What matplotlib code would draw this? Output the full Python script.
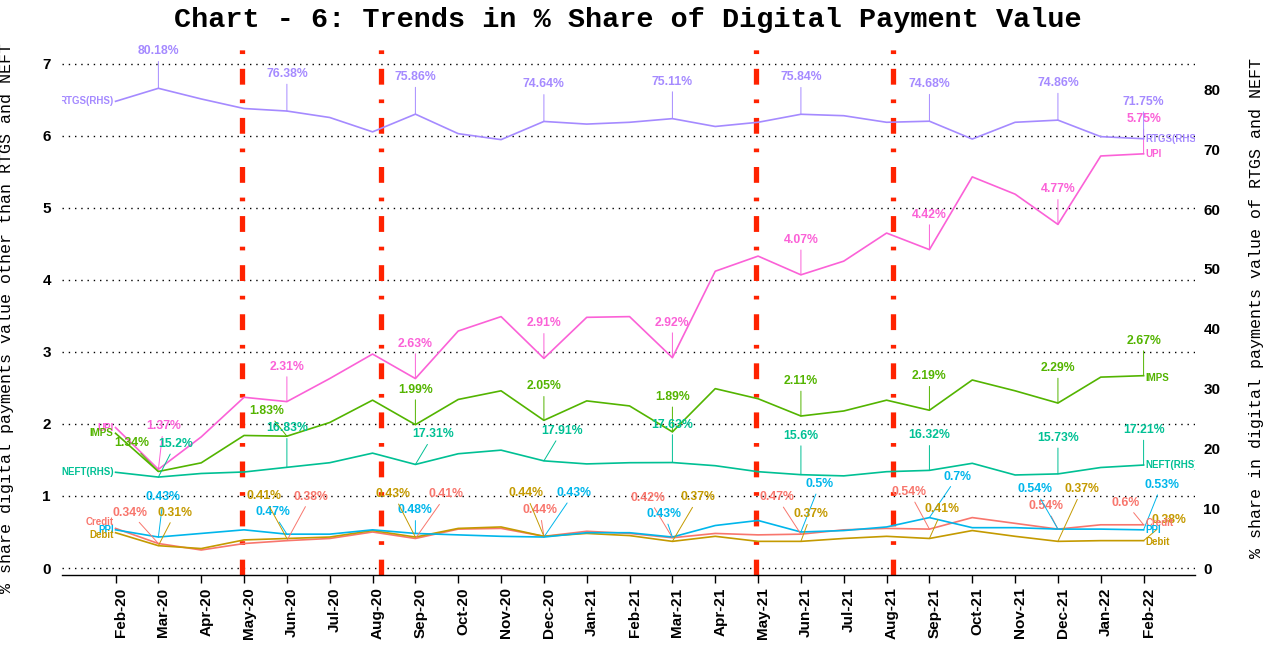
import numpy as np
import matplotlib
matplotlib.use("Agg")
import matplotlib.pyplot as plt
import matplotlib.transforms as mtransforms

plt.rcParams["font.family"] = ["Liberation Sans", "DejaVu Sans"]

# months on the x axis
months = ["Feb-20", "Mar-20", "Apr-20", "May-20", "Jun-20", "Jul-20", "Aug-20",
          "Sep-20", "Oct-20", "Nov-20", "Dec-20", "Jan-21", "Feb-21", "Mar-21",
          "Apr-21", "May-21", "Jun-21", "Jul-21", "Aug-21", "Sep-21", "Oct-21",
          "Nov-21", "Dec-21", "Jan-22", "Feb-22"]

# left axis series (% share)
upi = [1.95, 1.37, 1.82, 2.37, 2.31, 2.63, 2.97, 2.63, 3.29, 3.49, 2.91, 3.48, 3.49,
       2.92, 4.12, 4.33, 4.07, 4.26, 4.65, 4.42, 5.43, 5.19, 4.77, 5.72, 5.75]
imps = [1.87, 1.34, 1.46, 1.84, 1.83, 2.02, 2.33, 1.99, 2.34, 2.46, 2.05, 2.32, 2.25,
        1.89, 2.49, 2.35, 2.11, 2.18, 2.33, 2.19, 2.61, 2.46, 2.29, 2.65, 2.67]
ppi = [0.53, 0.43, 0.48, 0.53, 0.47, 0.47, 0.53, 0.48, 0.46, 0.44, 0.43, 0.49, 0.49,
       0.43, 0.59, 0.66, 0.5, 0.52, 0.57, 0.7, 0.56, 0.56, 0.54, 0.54, 0.53]
credit = [0.55, 0.34, 0.25, 0.34, 0.38, 0.41, 0.50, 0.41, 0.54, 0.55, 0.44, 0.51, 0.48,
          0.42, 0.48, 0.46, 0.47, 0.53, 0.55, 0.54, 0.70, 0.62, 0.54, 0.6, 0.6]
debit = [0.49, 0.31, 0.27, 0.39, 0.41, 0.43, 0.52, 0.43, 0.55, 0.57, 0.44, 0.48, 0.45,
         0.37, 0.44, 0.37, 0.37, 0.41, 0.44, 0.41, 0.52, 0.44, 0.37, 0.38, 0.38]

# right axis series (RHS)
neft = [16.0, 15.2, 15.8, 16.05, 16.83, 17.6, 19.2, 17.31, 19.1, 19.7, 17.91, 17.4, 17.6,
        17.63, 17.1, 16.1, 15.6, 15.4, 16.1, 16.32, 17.5, 15.55, 15.73, 16.8, 17.21]
rtgs = [78.0, 80.18, 78.4, 76.8, 76.38, 75.3, 72.9, 75.86, 72.6, 71.6, 74.64, 74.2, 74.5,
        75.11, 73.8, 74.5, 75.84, 75.6, 74.5, 74.68, 71.7, 74.5, 74.86, 72.1, 71.75]

# months that carry a value label
lab_idx = [1, 4, 7, 10, 13, 16, 19, 22, 24]

# label offsets in pixels (dx, dy) for each labelled month, repel-style
off_rtgs = [(0, 37)] * 9
off_upi = [(5, 43), (0, 35), (0, 35), (0, 35), (0, 35), (0, 35), (0, 35), (0, 35), (0, 35)]
off_imps = [(-27, 28), (-20, 25), (0, 35), (0, 34), (0, 35), (0, 35), (0, 34), (0, 35), (0, 35)]
off_neft = [(17, 33), (0, 39), (18, 30), (18, 30), (0, 38), (0, 39), (0, 35), (0, 36), (0, 35)]
off_credit = [(-28, 31), (24, 44), (31, 44), (-4, 26), (-24, 40), (-24, 37), (-20, 37), (-12, 23), (-18, 22)]
off_ppi = [(5, 40), (-14, 22), (0, 23), (30, 44), (-8, 23), (19, 48), (28, 41), (-23, 40), (18, 45)]
off_debit = [(17, 33), (-23, 42), (-22, 43), (-18, 43), (26, 44), (10, 27), (13, 29), (24, 52), (25, 21)]

# vertical phase markers (x in month index units)
phase_x = [2.95, 6.2, 14.95, 18.15]

c_credit = "#F8766D"
c_debit = "#C49A00"
c_imps = "#53B400"
c_neft = "#00C094"
c_ppi = "#00B6EB"
c_rtgs = "#A58AFF"
c_upi = "#FB61D7"

x = np.arange(len(months))

fig = plt.figure(figsize=(12.74, 6.45), dpi=100)
ax = fig.add_axes([62 / 1274, 1 - 575 / 645, (1195 - 62) / 1274, (575 - 40) / 645])
ax2 = ax.twinx()

ax.set_xlim(-1.25, 25.2)
ax.set_ylim(-0.097, 7.33)
ratio = 12.04
ax2.set_ylim(-0.097 * ratio, 7.33 * ratio)

# dotted grid from left axis
for g in range(0, 8):
    ax.axhline(g, color="black", lw=1.0, dashes=(1, 3.5), zorder=0.5)

for px in phase_x:
    ax.axvline(px, color="#FF2200", lw=3.8, dashes=(3, 2.8, 0.7, 2.8), zorder=1)

lw = 1.2
ax.plot(x, upi, color=c_upi, lw=lw, zorder=3)
ax.plot(x, imps, color=c_imps, lw=lw, zorder=3)
ax.plot(x, credit, color=c_credit, lw=lw, zorder=3)
ax.plot(x, debit, color=c_debit, lw=lw, zorder=3)
ax.plot(x, ppi, color=c_ppi, lw=lw, zorder=3)
ax2.plot(x, neft, color=c_neft, lw=lw, zorder=3)
ax2.plot(x, rtgs, color=c_rtgs, lw=lw, zorder=3)


def label_points(a, vals, offs, col):
    for i, (dx, dy) in zip(lab_idx, offs):
        a.annotate(f"{vals[i]:g}%", xy=(x[i], vals[i]), xytext=(dx, dy),
                   textcoords="offset pixels", ha="center", va="center",
                   fontsize=8.8, fontweight="bold", color=col,
                   arrowprops=dict(arrowstyle="-", color=col, lw=0.7,
                                   shrinkA=1, shrinkB=0))


label_points(ax2, rtgs, off_rtgs, c_rtgs)
label_points(ax, upi, off_upi, c_upi)
label_points(ax, imps, off_imps, c_imps)
label_points(ax2, neft, off_neft, c_neft)
label_points(ax, credit, off_credit, c_credit)
label_points(ax, ppi, off_ppi, c_ppi)
label_points(ax, debit, off_debit, c_debit)

# series names at both ends
ends = [(ax, "UPI", upi, c_upi, 0, 0), (ax, "IMPS", imps, c_imps, 0, -2),
        (ax2, "NEFT(RHS)", neft, c_neft, 0, 0), (ax2, "RTGS(RHS)", rtgs, c_rtgs, 0, 0),
        (ax, "Credit", credit, c_credit, 6, 2), (ax, "PPI", ppi, c_ppi, 0, 0),
        (ax, "Debit", debit, c_debit, -2, -1)]
for a, name, vals, col, dyl, dyr in ends:
    a.annotate(name, xy=(x[0], vals[0]), xytext=(-2, dyl), textcoords="offset pixels",
               ha="right", va="center", fontsize=7, fontweight="bold", color=col,
               annotation_clip=False, clip_on=True)
    a.annotate(name, xy=(x[-1], vals[-1]), xytext=(2, dyr), textcoords="offset pixels",
               ha="left", va="center", fontsize=7, fontweight="bold", color=col,
               annotation_clip=False, clip_on=True)

for a in (ax, ax2):
    for s in ["top", "left", "right"]:
        a.spines[s].set_visible(False)
ax2.spines["bottom"].set_visible(False)
ax.spines["bottom"].set_linewidth(1.0)

ax.set_xticks(x)
ax.set_xticklabels(months, rotation=90, fontsize=11, fontweight="bold")
ax.tick_params(axis="x", length=6, width=1, pad=3)
shift = mtransforms.ScaledTranslation(5 / 100, 0, fig.dpi_scale_trans)
for lbl in ax.get_xticklabels():
    lbl.set_transform(lbl.get_transform() + shift)

ax.set_yticks(range(0, 8))
ax.set_yticklabels([str(v) for v in range(0, 8)], fontsize=11, fontweight="bold")
ax.tick_params(axis="y", length=0, pad=8)
ax2.set_yticks(range(0, 81, 10))
ax2.set_yticklabels([str(v) for v in range(0, 81, 10)], fontsize=11, fontweight="bold")
ax2.tick_params(axis="y", length=0, pad=6)

ax.set_ylabel("% share digital payments value other than RTGS and NEFT",
              fontfamily="Liberation Mono", fontsize=12)
ax.yaxis.set_label_coords(-0.042, 0.48)
ax2.set_ylabel("% share in digital payments value of RTGS and NEFT",
               fontfamily="Liberation Mono", fontsize=12, rotation=90)
ax2.yaxis.set_label_coords(1.048, 0.5)

fig.text(0.493, 1 - 20 / 645, "Chart - 6: Trends in % Share of Digital Payment Value",
         ha="center", va="center", fontfamily="Liberation Mono", fontweight="bold",
         fontsize=20.5)

fig.savefig("out.png", dpi=100)
